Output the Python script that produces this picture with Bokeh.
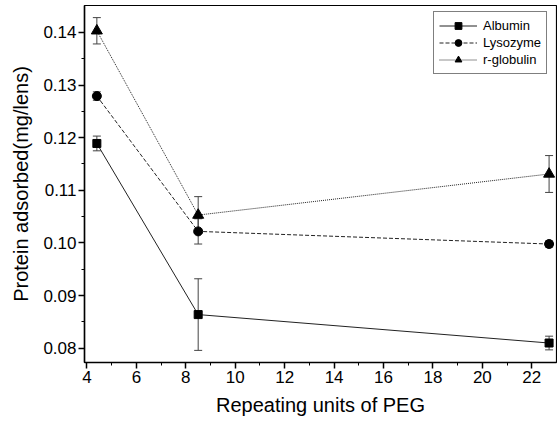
from bokeh.plotting import figure
from bokeh.models import (ColumnDataSource, Whisker, TeeHead, Legend, LegendItem,
                          FixedTicker, Range1d, CustomJSTickFormatter)
from bokeh.embed import file_html
from bokeh.resources import INLINE

peg_units = [4.4, 8.5, 22.7]
albumin = [0.1189, 0.0864, 0.0810]
albumin_err = [0.0014, 0.0068, 0.0013]
lysozyme = [0.1279, 0.1022, 0.0998]
lysozyme_err = [0.0008, 0.0024, 0.0006]
globulin = [0.1403, 0.1053, 0.1131]
globulin_err = [0.0025, 0.0035, 0.0035]

x_ticks = [4, 6, 8, 10, 12, 14, 16, 18, 20, 22]
x_minor = [5, 7, 9, 11, 13, 15, 17, 19, 21]
y_ticks = [0.08, 0.09, 0.10, 0.11, 0.12, 0.13, 0.14]
y_minor = [0.085, 0.095, 0.105, 0.115, 0.125, 0.135]

FONT = "Liberation Sans"

p = figure(width=557, height=423, output_backend="svg", toolbar_location=None,
           x_range=Range1d(3.9, 23.0), y_range=Range1d(0.0773, 0.1451),
           min_border_left=84, min_border_right=1, min_border_top=5,
           min_border_bottom=61)
p.background_fill_color = "white"
p.border_fill_color = "white"
p.outline_line_color = "black"
p.outline_line_width = 1.2
p.xgrid.visible = False
p.ygrid.visible = False

p.xaxis.ticker = FixedTicker(ticks=x_ticks, minor_ticks=x_minor)
p.yaxis.ticker = FixedTicker(ticks=y_ticks, minor_ticks=y_minor)
p.yaxis.formatter = CustomJSTickFormatter(code="return tick.toFixed(2);")

for ax in (p.xaxis[0], p.yaxis[0]):
    ax.axis_line_color = "black"
    ax.axis_line_width = 1.5
    ax.major_tick_line_color = "black"
    ax.minor_tick_line_color = "black"
    ax.major_tick_line_width = 1.5
    ax.major_tick_out = 6
    ax.major_tick_in = 0
    ax.minor_tick_out = 3
    ax.minor_tick_in = 0
    ax.major_label_text_font = FONT
    ax.major_label_text_font_size = "17px"
    ax.major_label_text_color = "black"
    ax.axis_label_text_font = FONT
    ax.axis_label_text_font_size = "20px"
    ax.axis_label_text_font_style = "normal"
    ax.axis_label_text_color = "black"

p.xaxis.axis_label = "Repeating units of PEG"
p.yaxis.axis_label = "Protein adsorbed(mg/lens)"
p.xaxis.major_label_standoff = 2
p.yaxis.major_label_standoff = 2
p.xaxis.axis_label_standoff = 8
p.yaxis.axis_label_standoff = 8

series = [
    ("Albumin", albumin, albumin_err, "solid", "square", 8),
    ("Lysozyme", lysozyme, lysozyme_err, "4 2", "circle", 9),
    ("r-globulin", globulin, globulin_err, "1 1", "triangle", 11),
]

items = []
for name, vals, errs, dash, marker, size in series:
    lo = [v - e for v, e in zip(vals, errs)]
    hi = [v + e for v, e in zip(vals, errs)]
    src = ColumnDataSource(data=dict(x=peg_units, y=vals, lo=lo, hi=hi))
    w = Whisker(source=src, base="x", lower="lo", upper="hi",
                line_color="#444444", line_width=1,
                upper_head=TeeHead(size=8, line_color="#444444", line_width=1),
                lower_head=TeeHead(size=8, line_color="#444444", line_width=1))
    p.add_layout(w)
    lr = p.line("x", "y", source=src, line_color="#222222", line_width=1,
                line_dash=dash)
    sr = p.scatter("x", "y", source=src, marker=marker, size=size,
                   fill_color="black", line_color="black")
    items.append(LegendItem(label=name, renderers=[lr, sr]))

legend = Legend(items=items, location=(349, 288))
legend.label_text_font = FONT
legend.label_text_font_size = "13px"
legend.label_text_color = "black"
legend.border_line_color = "black"
legend.border_line_width = 1
legend.padding = 5
legend.spacing = 0
legend.margin = 0
legend.glyph_width = 38
legend.glyph_height = 17
legend.label_height = 17
legend.label_standoff = 6
p.add_layout(legend)

open("out.html", "w").write(file_html(p, INLINE))
